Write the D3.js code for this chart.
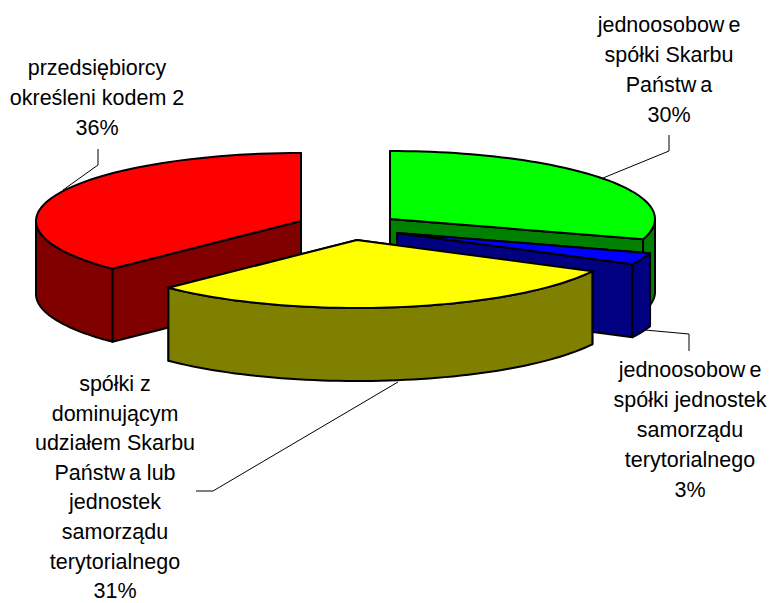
<!DOCTYPE html>
<html>
<head>
<meta charset="utf-8">
<script src="https://cdn.jsdelivr.net/npm/d3@7"></script>
<style>
  body { margin: 0; background: #fff; }
  text { font-family: "Liberation Sans", Arial, sans-serif; font-size: 21.5px; fill: #000; }
</style>
</head>
<body>
<svg id="chart"></svg>
<script>
// sweep of each slice as measured on the picture, the printed percentages differ a bit
const sliceValues = [29.8, 2.8, 30, 37.4];
const topColors = ["#00ff00", "#0000ff", "#ffff00", "#ff0000"];
const sideColors = ["#008000", "#000080", "#808000", "#800000"];
const percentLabels = ["30%", "3%", "31%", "36%"];
const labelLines = [
    ["jednoosobow|e", "spółki Skarbu", "Państw|a"],
    ["jednoosobow|e", "spółki jednostek", "samorządu", "terytorialnego"],
    ["spółki z", "dominującym", "udziałem Skarbu", "Państw|a lub", "jednostek", "samorządu", "terytorialnego"],
    ["przedsiębiorcy", "określeni kodem 2"]
];

// layout
const width = 771, height = 603;
const rx = 265, ry = 68, depth = 73;
const centers = [[390, 219], [397, 233], [357, 240], [301, 221]];
const labelPos = [[669, 32], [690, 377], [115, 391], [97, 75]];
const lineSteps = [29.9, 29.9, 29.6, 29.9];
const leaders = [
    [[669, 135], [669, 151], [603, 178]],
    [[645, 330], [689, 334], [689, 351]],
    [[196, 491], [213, 491], [398, 382]],
    [[98, 149], [98, 165], [63, 190]]
];

const svg = d3.select("#chart").attr("width", width).attr("height", height);

const pie = d3.pie().sort(null);
const arcs = pie(sliceValues);
const line = d3.line();

function project(c, a, dy = 0) {
    return [c[0] + rx * Math.sin(a), c[1] - ry * Math.cos(a) + dy];
}

function rimPoints(c, a0, a1, dy = 0) {
    return d3.range(0, 61).map(i => project(c, a0 + (a1 - a0) * i / 60, dy));
}

function drawFace(points, fill) {
    svg.append("path")
        .attr("d", line(points) + "Z")
        .attr("fill", fill)
        .attr("stroke", "#000")
        .attr("stroke-width", 2)
        .attr("stroke-linejoin", "round");
}

// back to front: red, green, blue, yellow
[3, 0, 1, 2].forEach(function (i) {
    const d = arcs[i], c = centers[i], side = sideColors[i];
    const low = [c[0], c[1] + depth];

    // radial walls, the one whose tip is further forward goes last
    [d.startAngle, d.endAngle]
        .sort((a, b) => project(c, a)[1] - project(c, b)[1])
        .forEach(function (a) {
            drawFace([c, project(c, a), project(c, a, depth), low], side);
        });

    // outer wall only where the rim faces the viewer
    const a0 = Math.max(d.startAngle, Math.PI / 2);
    const a1 = Math.min(d.endAngle, 3 * Math.PI / 2);
    if (a1 > a0) {
        drawFace(rimPoints(c, a0, a1).concat(rimPoints(c, a1, a0, depth)), side);
    }

    drawFace([c].concat(rimPoints(c, d.startAngle, d.endAngle)), topColors[i]);
});

svg.selectAll("path.leader")
    .data(leaders)
    .enter()
    .append("path")
    .attr("class", "leader")
    .attr("d", line)
    .attr("fill", "none")
    .attr("stroke", "#000")
    .attr("stroke-width", 1);

labelLines.forEach(function (lines, i) {
    const label = svg.append("text")
        .attr("text-anchor", "middle")
        .attr("transform", "translate(" + labelPos[i] + ")");

    lines.concat(percentLabels[i]).forEach(function (txt, j) {
        const parts = txt.split("|");
        label.append("tspan")
            .attr("x", 0)
            .attr("y", j * lineSteps[i])
            .text(parts[0]);
        // the reference leaves a small gap before the last letters of these words
        if (parts[1]) {
            label.append("tspan").attr("dx", 4).text(parts[1]);
        }
    });
});
</script>
</body>
</html>
